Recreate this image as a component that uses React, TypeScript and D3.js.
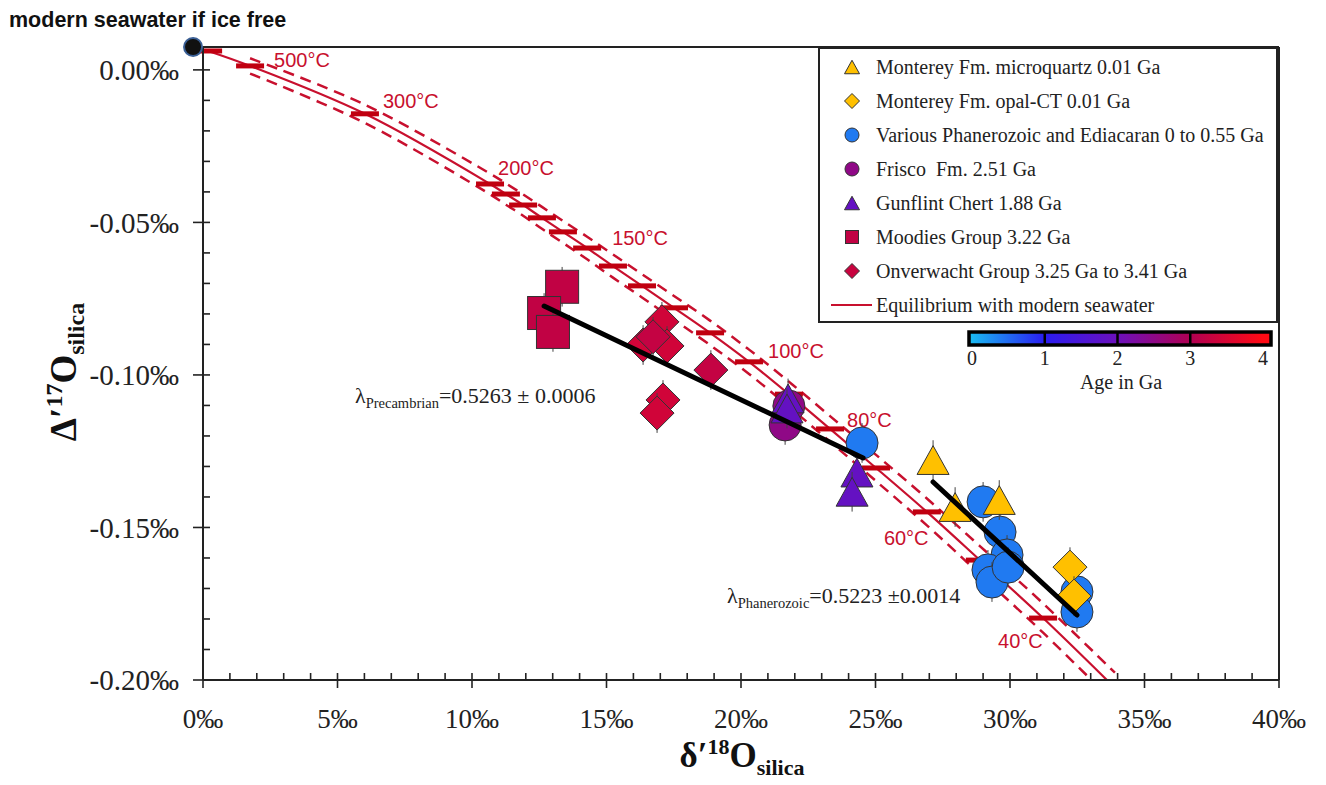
import React from 'react'
import * as d3 from 'd3'

const W = 1326
const H = 785
const margin = { top: 47, right: 47, bottom: 105, left: 203 }

// axes
const xMajor = [0, 5, 10, 15, 20, 25, 30, 35, 40]
const yMajor = [0, -0.05, -0.1, -0.15, -0.2]

// equilibrium with modern seawater
const eqTemp = [1000, 500, 300, 200, 190, 180, 170, 160, 150, 140, 130, 120, 110, 100, 90, 80, 70, 60, 50, 40, 30]
const eqX = [0.19, 1.75, 6.02, 10.67, 11.26, 11.9, 12.6, 13.38, 14.28, 15.24, 16.32, 17.51, 18.85, 20.3, 21.78, 23.31, 25.02, 26.91, 28.88, 31.23, 33.9]
const eqY = [0.0062, 0.0013, -0.0144, -0.0374, -0.0407, -0.0443, -0.0485, -0.0531, -0.0584, -0.0643, -0.0708, -0.078, -0.0862, -0.0957, -0.1063, -0.1177, -0.1305, -0.1449, -0.1607, -0.1797, -0.2026]
const eqErr = [0.001, 0.0025, 0.003, 0.0034, 0.0035, 0.0035, 0.0036, 0.0036, 0.0037, 0.0038, 0.0038, 0.0039, 0.004, 0.004, 0.0041, 0.0042, 0.0043, 0.0044, 0.0046, 0.0048, 0.005]
const labelledTemps = [500, 300, 200, 150, 100, 80, 60, 40]

// samples
const quartzX = [27.14, 27.96, 29.6]
const quartzY = [-0.1279, -0.1433, -0.141]
const opalX = [32.23, 32.38]
const opalY = [-0.163, -0.1725]
const phanX = [24.5, 29.0, 29.63, 29.89, 29.18, 29.33, 29.93, 32.49, 32.49]
const phanY = [-0.1223, -0.1416, -0.1515, -0.159, -0.1639, -0.1679, -0.163, -0.1711, -0.1777]
const friscoX = [21.78, 21.64]
const friscoY = [-0.1102, -0.1164]
const gunflintX = [21.75, 21.71, 24.31, 24.13]
const gunflintY = [-0.1077, -0.111, -0.132, -0.1383]
const moodiesX = [13.35, 12.68, 13.01]
const moodiesY = [-0.0711, -0.0797, -0.0859]
const onverX = [17.06, 16.36, 17.25, 16.73, 18.88, 17.1, 16.88]
const onverY = [-0.0826, -0.0902, -0.0905, -0.0875, -0.0984, -0.1082, -0.1125]
const onverAge = [3.41, 3.41, 3.41, 3.25, 3.25, 3.41, 3.41]
const sampleErr = 0.0065

// regression lines
const precambrianFitX = [12.68, 24.54]
const precambrianFitY = [-0.0774, -0.1272]
const phanerozoicFitX = [27.14, 32.49]
const phanerozoicFitY = [-0.1351, -0.1787]

const seawaterX = -0.37
const seawaterY = 0.0075

// age colour bar
const colorStops = [0, 1, 2, 3, 4]
const colorValues = ['#1ab8f2', '#2a1cf0', '#6c10bc', '#b00052', '#ff0a14']

const legendLabels = [
  'Monterey Fm. microquartz 0.01 Ga',
  'Monterey Fm. opal-CT 0.01 Ga',
  'Various Phanerozoic and Ediacaran 0 to 0.55 Ga',
  'Frisco \u00a0Fm. 2.51 Ga',
  'Gunflint Chert 1.88 Ga',
  'Moodies Group 3.22 Ga',
  'Onverwacht Group 3.25 Ga to 3.41 Ga',
  'Equilibrium with modern seawater',
]

const labelOffset: Record<number, [number, number]> = {
  500: [24, 1], 300: [18, -6], 200: [8, -9], 150: [25, -3],
  100: [19, -4], 80: [17, -2], 60: [-43, 33], 40: [-45, 30],
}

const RED = '#c8102e'
const GOLD = '#ffc000'
const SERIF = '"Liberation Serif", "Times New Roman", serif'
const SANS = '"Liberation Sans", Arial, sans-serif'

function Marker({ shape, cx, cy, s, fill }: { shape: string; cx: number; cy: number; s: number; fill: string }) {
  const common = { fill, stroke: '#333', strokeWidth: 1 }
  if (shape === 'circle') return <circle cx={cx} cy={cy} r={s} {...common} />
  if (shape === 'square') return <rect x={cx - s / 2} y={cy - s / 2} width={s} height={s} {...common} />
  if (shape === 'diamond') {
    return <path d={`M${cx},${cy - s}L${cx + s},${cy}L${cx},${cy + s}L${cx - s},${cy}Z`} {...common} />
  }
  const h = s * 0.9
  return <path d={`M${cx},${cy - h / 2}L${cx + s / 2},${cy + h / 2}L${cx - s / 2},${cy + h / 2}Z`} {...common} />
}

export default function App() {
  const x = d3.scaleLinear().domain([0, 40]).range([margin.left, W - margin.right])
  const y = d3.scaleLinear().domain([-0.2, 0.0075]).range([H - margin.bottom, margin.top])
  const ageColor = d3.scaleLinear<string>().domain(colorStops).range(colorValues).interpolate(d3.interpolateRgb)

  const line = d3.line<number[]>()
    .x((d) => x(d[0]))
    .y((d) => y(d[1]))
    .curve(d3.curveCatmullRom.alpha(0.5))

  const eqMid = eqX.map((v, i) => [v, eqY[i]])
  const eqUp = eqX.map((v, i) => [v, eqY[i] + eqErr[i]]).slice(1)
  const eqLo = eqX.map((v, i) => [v, eqY[i] - eqErr[i]]).slice(1)

  const series = [
    { xs: phanX, ys: phanY, shape: 'circle', s: 16, color: () => ageColor(0.4) },
    { xs: friscoX, ys: friscoY, shape: 'circle', s: 16, color: () => ageColor(2.51) },
    { xs: gunflintX, ys: gunflintY, shape: 'triangle', s: 32, color: () => ageColor(1.88) },
    { xs: moodiesX, ys: moodiesY, shape: 'square', s: 33, color: () => ageColor(3.22) },
    { xs: onverX, ys: onverY, shape: 'diamond', s: 17, color: (i: number) => ageColor(onverAge[i]) },
    { xs: quartzX, ys: quartzY, shape: 'triangle', s: 32, color: () => GOLD },
    { xs: opalX, ys: opalY, shape: 'diamond', s: 17, color: () => GOLD },
  ]

  const legendItems = [
    { shape: 'triangle', s: 15, color: GOLD },
    { shape: 'diamond', s: 7.5, color: GOLD },
    { shape: 'circle', s: 7, color: ageColor(0.4) },
    { shape: 'circle', s: 7, color: ageColor(2.51) },
    { shape: 'triangle', s: 15, color: ageColor(1.88) },
    { shape: 'square', s: 13, color: ageColor(3.22) },
    { shape: 'diamond', s: 7.5, color: ageColor(3.3) },
    { shape: 'line', s: 0, color: RED },
  ]

  const cb = d3.scaleLinear().domain([0, 4]).range([972, 1263])
  const x0 = x(0)
  const x1 = x(40)
  const yb = y(-0.2)
  const yt = y(0.0075)

  return (
    <svg width={W} height={H} style={{ position: 'absolute', left: 0, top: 0, background: '#fff' }}>
      <defs>
        <clipPath id="plot">
          <rect x={x0} y={yt} width={x1 - x0} height={yb - yt} />
        </clipPath>
        <linearGradient id="ageGrad" gradientUnits="userSpaceOnUse" x1={cb(0)} x2={cb(4)} y1={0} y2={0}>
          {colorStops.map((c, i) => (
            <stop key={c} offset={c / 4} stopColor={colorValues[i]} />
          ))}
        </linearGradient>
      </defs>

      {/* title */}
      <text x={9} y={27} fontFamily={SANS} fontWeight="bold" fontSize={21.5} fill="#111">modern seawater if ice free</text>

      {/* frame */}
      <line x1={x0} x2={x1} y1={yt} y2={yt} stroke="#222" strokeWidth={2} />
      <line x1={x1} x2={x1} y1={yt} y2={yb} stroke="#222" strokeWidth={2} />

      {/* equilibrium curve */}
      <g clipPath="url(#plot)" fill="none" stroke={RED}>
        <path d={line(eqMid) || ''} strokeWidth={2.2} />
        <path d={line(eqUp) || ''} strokeWidth={2.5} strokeDasharray="11 7" />
        <path d={line(eqLo) || ''} strokeWidth={2.5} strokeDasharray="11 7" />
      </g>
      {eqTemp.slice(0, -1).map((t, i) => (
        <rect key={t} x={x(eqX[i]) - 14} y={y(eqY[i]) - 2.5} width={28} height={5} fill="#c00010" />
      ))}
      {labelledTemps.map((t) => {
        const i = eqTemp.indexOf(t)
        const [dx, dy] = labelOffset[t]
        return (
          <text key={t} x={x(eqX[i]) + dx} y={y(eqY[i]) + dy} fontFamily={SANS} fontSize={20} fill={RED}>{`${t}°C`}</text>
        )
      })}

      {/* samples */}
      {series.map((sr, k) => (
        <g key={k}>
          {sr.xs.map((v, i) => (
            <g key={i}>
              <line x1={x(v)} x2={x(v)} y1={y(sr.ys[i] + sampleErr)} y2={y(sr.ys[i] - sampleErr)} stroke="#444" strokeWidth={1} />
              <Marker shape={sr.shape} cx={x(v)} cy={y(sr.ys[i])} s={sr.s} fill={sr.color(i)} />
            </g>
          ))}
        </g>
      ))}

      {/* regression lines */}
      <line x1={x(precambrianFitX[0])} y1={y(precambrianFitY[0])} x2={x(precambrianFitX[1])} y2={y(precambrianFitY[1])} stroke="#000" strokeWidth={5} strokeLinecap="round" />
      <line x1={x(phanerozoicFitX[0])} y1={y(phanerozoicFitY[0])} x2={x(phanerozoicFitX[1])} y2={y(phanerozoicFitY[1])} stroke="#000" strokeWidth={5} strokeLinecap="round" />

      <text x={x(5.65)} y={y(-0.1092)} fontFamily={SERIF} fontSize={22} fill="#222">
        λ<tspan fontSize={14.5} dy={5}>Precambrian</tspan><tspan dy={-5}>=0.5263 ± 0.0006</tspan>
      </text>
      <text x={x(19.48)} y={y(-0.1748)} fontFamily={SERIF} fontSize={22} fill="#222">
        λ<tspan fontSize={14.5} dy={5}>Phanerozoic</tspan><tspan dy={-5}>=0.5223 ±0.0014</tspan>
      </text>

      {/* axes */}
      <g stroke="#222">
        <line x1={x0} x2={x0} y1={yt} y2={yb} strokeWidth={2} />
        <line x1={x0} x2={x1} y1={yb} y2={yb} strokeWidth={2} />
        {d3.range(0, 41).map((v) => (
          <line key={`xm${v}`} x1={x(v)} x2={x(v)} y1={yb - 7} y2={v % 5 === 0 ? yb + 8 : yb} strokeWidth={1.6} />
        ))}
        {d3.range(0, 21).map((k) => {
          const v = -k / 100
          return <line key={`ym${k}`} x1={k % 5 === 0 ? x0 - 10 : x0} x2={x0 + 7} y1={y(v)} y2={y(v)} strokeWidth={1.6} />
        })}
      </g>
      {xMajor.map((v) => (
        <text key={`xl${v}`} x={x(v)} y={yb + 48} textAnchor="middle" fontFamily={SERIF} fontSize={27} fill="#222">{`${v}‰`}</text>
      ))}
      {yMajor.map((v) => (
        <text key={`yl${v}`} x={x0 - 24} y={y(v)} dy="0.35em" textAnchor="end" fontFamily={SERIF} fontSize={29} fill="#222">{`${v === 0 ? '0.00' : v.toFixed(2)}‰`}</text>
      ))}

      {/* axis titles */}
      <text x={742} y={767} textAnchor="middle" fontFamily={SERIF} fontWeight="bold" fontSize={35} fill="#111">
        δ′<tspan fontSize={22} dy={-13}>18</tspan><tspan dy={13}>O</tspan><tspan fontSize={22} dy={8}>silica</tspan>
      </text>
      <text transform="translate(76,372) rotate(-90)" textAnchor="middle" fontFamily={SERIF} fontWeight="bold" fontSize={37} fill="#111">
        Δ′<tspan fontSize={24} dy={-14}>17</tspan><tspan dy={14}>O</tspan><tspan fontSize={24} dy={8}>silica</tspan>
      </text>

      {/* seawater */}
      <circle cx={x(seawaterX)} cy={y(seawaterY)} r={9} fill="#111" stroke="#3a5f95" strokeWidth={2} />

      {/* legend */}
      <rect x={819} y={48} width={458} height={274} fill="#fff" stroke="#222" strokeWidth={2} />
      {legendLabels.map((lab, i) => {
        const cy = 67 + i * 34
        const it = legendItems[i]
        return (
          <g key={lab}>
            {it.shape === 'line'
              ? <line x1={831} x2={872} y1={cy} y2={cy} stroke={RED} strokeWidth={2} />
              : <Marker shape={it.shape} cx={852} cy={cy} s={it.s} fill={it.color} />}
            <text x={876} y={cy} dy="0.35em" fontFamily={SERIF} fontSize={20} fill="#222">{lab}</text>
          </g>
        )
      })}

      {/* colour bar */}
      <rect x={969} y={332} width={302} height={13} fill="url(#ageGrad)" stroke="#000" strokeWidth={3.5} />
      {[1, 2, 3].map((v) => (
        <line key={`cbd${v}`} x1={cb(v)} x2={cb(v)} y1={332} y2={345} stroke="#000" strokeWidth={2.5} />
      ))}
      {colorStops.map((v) => (
        <text key={`cbl${v}`} x={cb(v)} y={358} dy="0.35em" textAnchor="middle" fontFamily={SERIF} fontSize={20} fill="#222">{v}</text>
      ))}
      <text x={1121} y={382} dy="0.35em" textAnchor="middle" fontFamily={SERIF} fontSize={20} fill="#222">Age in Ga</text>
    </svg>
  )
}
